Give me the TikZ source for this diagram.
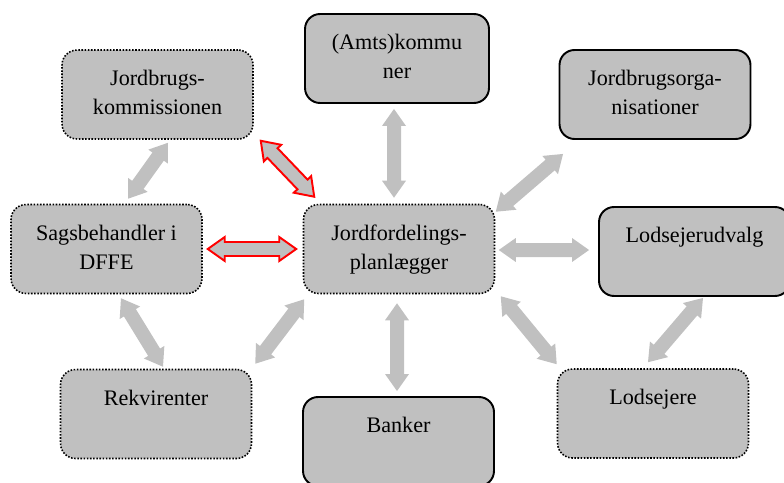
\documentclass[tikz,border=0pt]{standalone}
\usepackage{xcolor}
\usepackage{fontspec}
\setmainfont{Liberation Serif}
\usepackage{tikz}
\usetikzlibrary{calc}
\definecolor{boxgray}{HTML}{C0C0C0}

% double block arrow between two points
\newcommand{\dblarrow}[3][]{%
  \coordinate (da) at (#2);
  \coordinate (db) at (#3);
  \coordinate (ha) at ($(da)!0.34cm!(db)$);
  \coordinate (hb) at ($(db)!0.34cm!(da)$);
  \path[#1] (da) -- ($(ha)!0.24cm!90:(db)$) -- ($(ha)!0.14cm!90:(db)$)
    -- ($(hb)!0.14cm!-90:(da)$) -- ($(hb)!0.24cm!-90:(da)$) -- (db)
    -- ($(hb)!0.24cm!90:(da)$) -- ($(hb)!0.14cm!90:(da)$)
    -- ($(ha)!0.14cm!-90:(db)$) -- ($(ha)!0.24cm!-90:(db)$) -- cycle;
}
\newcommand{\boxtext}[1]{\parbox[t][1.78cm][t]{3.6cm}{\centering\rule{0pt}{20.2pt}#1}}

\begin{document}
\begin{tikzpicture}[x=0.02cm,y=-0.02cm,
  box/.style={rounded corners=0.3cm,fill=boxgray,inner sep=0pt,minimum width=3.82cm,minimum height=1.78cm,font=\fontsize{12.6}{16.6}\selectfont},
  dotbox/.style={box,draw,line width=0.9pt,dash pattern=on 0.9pt off 0.9pt},
  solidbox/.style={box,draw,line width=1.1pt},
  grayarr/.style={fill=boxgray},
  redarr/.style={fill=boxgray,draw=red,line width=1.1pt}
]
  \useasboundingbox (0,0) rectangle (784,483);
  \clip (0,0) rectangle (784,483);

  \node[dotbox]   (kom) at (157.5,94.5) {\boxtext{Jordbrugs-\\kommissionen}};
  \node[solidbox,minimum width=3.68cm] (amt) at (397,58.5) {\boxtext{(Amts)kommu\\ner}};
  \node[solidbox] (org) at (655,94.5)   {\boxtext{Jordbrugsorga-\\nisationer}};
  \node[dotbox]   (sag) at (106.5,249)  {\boxtext{Sagsbehandler i\\DFFE}};
  \node[dotbox]   (jfp) at (399,249)    {\boxtext{Jordfordelings-\\planlægger}};
  \node[solidbox] (udv) at (694.5,251.5){\boxtext{Lodsejerudvalg}};
  \node[dotbox]   (rek) at (156,414)    {\boxtext{Rekvirenter}};
  \node[solidbox] (ban) at (398.5,441.5){\boxtext{Banker}};
  \node[dotbox]   (lse) at (653,413.5)  {\boxtext{Lodsejere}};

  \dblarrow[grayarr]{$(kom.south)+(10.5,3)$}{$(sag.north)+(21.5,-5)$}
  \dblarrow[redarr]{$(kom.south east)+(7,1)$}{$(jfp.north west)+(11.5,-7)$}
  \dblarrow[redarr]{$(sag.east)+(5,0)$}{$(jfp.west)+(-6.5,0)$}
  \dblarrow[grayarr]{$(amt.south)+(-3,5)$}{$(jfp.north)+(-5,-6)$}
  \dblarrow[grayarr]{$(org.south west)+(4.5,14)$}{$(jfp.north east)+(0.5,8)$}
  \dblarrow[grayarr]{$(jfp.east)+(3.5,1)$}{$(udv.west)+(-9,-1.5)$}
  \dblarrow[grayarr]{$(jfp.south east)+(5.5,2)$}{$(lse.north west)+(0,-4)$}
  \dblarrow[grayarr]{$(udv.south)+(8.5,1)$}{$(lse.north)+(-5,-6)$}
  \dblarrow[grayarr]{$(jfp.south)+(-2,9)$}{$(ban.north)+(-1.5,-5)$}
  \dblarrow[grayarr]{$(jfp.south west)+(1.5,5)$}{$(rek.north east)+(3,-5)$}
  \dblarrow[grayarr]{$(sag.south)+(14.5,4)$}{$(rek.north)+(7,-2)$}
\end{tikzpicture}
\end{document}
